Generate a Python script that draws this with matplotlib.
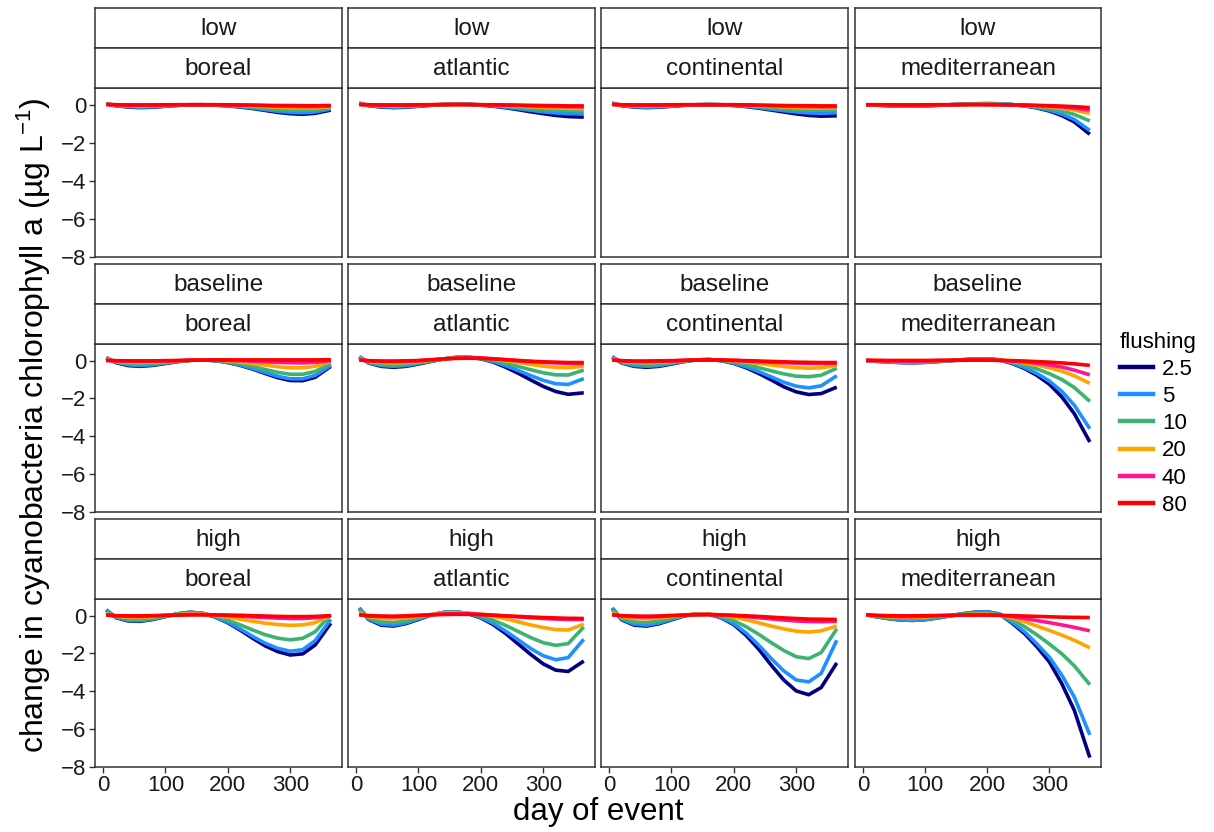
"""Cyanobacteria chlorophyll response by climate region, scenario and flushing."""

import matplotlib
matplotlib.use("Agg")
import matplotlib.pyplot as plt
from matplotlib.lines import Line2D

plt.rcParams["font.family"] = ["Liberation Sans", "DejaVu Sans"]
plt.rcParams["mathtext.fontset"] = "custom"
plt.rcParams["mathtext.rm"] = "Liberation Sans"
plt.rcParams["mathtext.it"] = "Liberation Sans:italic"

# ---- data -----------------------------------------------------------------
scenarios = ["low", "baseline", "high"]
regions = ["boreal", "atlantic", "continental", "mediterranean"]
flushing = ["2.5", "5", "10", "20", "40", "80"]
days = [5, 20, 40, 60, 80, 100, 120, 140, 160, 180, 200, 220, 240, 260, 280, 300, 320, 340, 365]

# low scenario (rows: flushing 2.5, 5, 10, 20, 40, 80)
low_boreal = [
    [0.05, -0.05, -0.12, -0.15, -0.13, -0.08, -0.03, 0.00, 0.00, -0.02, -0.06, -0.12, -0.20, -0.30, -0.40, -0.47, -0.50, -0.45, -0.28],
    [0.05, -0.05, -0.10, -0.13, -0.11, -0.07, -0.03, 0.00, 0.00, -0.02, -0.05, -0.10, -0.17, -0.26, -0.34, -0.40, -0.42, -0.38, -0.22],
    [0.05, -0.03, -0.07, -0.09, -0.08, -0.05, -0.02, 0.00, 0.00, -0.01, -0.04, -0.07, -0.12, -0.18, -0.24, -0.28, -0.29, -0.27, -0.15],
    [0.03, -0.02, -0.04, -0.05, -0.04, -0.03, -0.01, 0.00, 0.00, 0.00, -0.02, -0.04, -0.07, -0.10, -0.13, -0.16, -0.17, -0.16, -0.10],
    [0.02, 0.00, -0.02, -0.02, -0.02, -0.01, 0.00, 0.00, 0.00, 0.00, -0.01, -0.02, -0.03, -0.05, -0.07, -0.08, -0.09, -0.09, -0.06],
    [0.01, 0.00, -0.01, -0.01, -0.01, 0.00, 0.00, 0.00, 0.00, 0.00, 0.00, -0.01, -0.02, -0.03, -0.04, -0.04, -0.05, -0.05, -0.04],
]
low_atlantic = [
    [0.08, -0.05, -0.12, -0.15, -0.13, -0.08, -0.03, 0.01, 0.03, 0.02, -0.02, -0.08, -0.16, -0.26, -0.37, -0.47, -0.56, -0.62, -0.65],
    [0.08, -0.04, -0.10, -0.13, -0.11, -0.07, -0.02, 0.01, 0.03, 0.02, -0.01, -0.06, -0.13, -0.21, -0.29, -0.37, -0.43, -0.47, -0.48],
    [0.05, -0.03, -0.07, -0.09, -0.08, -0.05, -0.01, 0.01, 0.02, 0.02, 0.00, -0.04, -0.08, -0.13, -0.19, -0.24, -0.28, -0.31, -0.32],
    [0.03, -0.02, -0.04, -0.05, -0.04, -0.03, 0.00, 0.01, 0.02, 0.01, 0.00, -0.02, -0.05, -0.08, -0.11, -0.14, -0.17, -0.19, -0.20],
    [0.02, 0.00, -0.02, -0.02, -0.02, -0.01, 0.00, 0.01, 0.01, 0.01, 0.00, -0.01, -0.02, -0.04, -0.06, -0.08, -0.09, -0.10, -0.11],
    [0.01, 0.00, -0.01, -0.01, -0.01, 0.00, 0.00, 0.01, 0.01, 0.01, 0.00, 0.00, -0.01, -0.02, -0.03, -0.04, -0.05, -0.06, -0.06],
]
low_continental = [
    [0.08, -0.05, -0.12, -0.15, -0.13, -0.08, -0.03, 0.00, 0.01, 0.00, -0.04, -0.10, -0.18, -0.28, -0.38, -0.48, -0.56, -0.60, -0.58],
    [0.08, -0.04, -0.10, -0.13, -0.11, -0.07, -0.02, 0.00, 0.01, 0.00, -0.03, -0.08, -0.15, -0.23, -0.31, -0.38, -0.43, -0.45, -0.42],
    [0.05, -0.03, -0.07, -0.09, -0.08, -0.05, -0.01, 0.00, 0.01, 0.00, -0.02, -0.05, -0.10, -0.15, -0.20, -0.25, -0.28, -0.29, -0.27],
    [0.03, -0.02, -0.04, -0.05, -0.04, -0.03, 0.00, 0.00, 0.01, 0.00, -0.01, -0.03, -0.06, -0.09, -0.12, -0.15, -0.17, -0.18, -0.17],
    [0.02, 0.00, -0.02, -0.02, -0.02, -0.01, 0.00, 0.00, 0.00, 0.00, 0.00, -0.01, -0.03, -0.05, -0.07, -0.08, -0.09, -0.10, -0.10],
    [0.01, 0.00, -0.01, -0.01, -0.01, 0.00, 0.00, 0.00, 0.00, 0.00, 0.00, -0.01, -0.02, -0.03, -0.04, -0.05, -0.05, -0.06, -0.06],
]
low_mediterranean = [
    [0.00, -0.02, -0.05, -0.07, -0.07, -0.06, -0.03, 0.00, 0.03, 0.05, 0.06, 0.05, 0.01, -0.06, -0.17, -0.33, -0.57, -0.90, -1.55],
    [0.00, -0.02, -0.05, -0.07, -0.07, -0.06, -0.03, 0.00, 0.03, 0.05, 0.06, 0.05, 0.01, -0.05, -0.15, -0.29, -0.49, -0.77, -1.35],
    [0.00, -0.01, -0.03, -0.05, -0.05, -0.04, -0.02, 0.00, 0.02, 0.04, 0.04, 0.03, 0.00, -0.04, -0.11, -0.20, -0.33, -0.51, -0.85],
    [0.00, -0.01, -0.02, -0.03, -0.03, -0.02, -0.01, 0.00, 0.01, 0.02, 0.02, 0.01, 0.00, -0.03, -0.07, -0.12, -0.19, -0.28, -0.45],
    [0.00, 0.00, -0.01, -0.02, -0.02, -0.01, 0.00, 0.00, 0.01, 0.01, 0.01, 0.00, -0.01, -0.02, -0.05, -0.08, -0.12, -0.18, -0.28],
    [0.00, 0.00, 0.00, -0.01, -0.01, 0.00, 0.00, 0.00, 0.00, 0.01, 0.00, 0.00, -0.01, -0.02, -0.03, -0.05, -0.07, -0.10, -0.15],
]

# baseline scenario
baseline_boreal = [
    [0.15, -0.10, -0.26, -0.30, -0.25, -0.15, -0.05, 0.02, 0.04, 0.00, -0.10, -0.25, -0.45, -0.68, -0.90, -1.05, -1.06, -0.88, -0.30],
    [0.15, -0.08, -0.22, -0.26, -0.22, -0.13, -0.04, 0.02, 0.04, 0.00, -0.09, -0.23, -0.42, -0.63, -0.83, -0.96, -0.96, -0.78, -0.25],
    [0.10, -0.06, -0.16, -0.19, -0.16, -0.10, -0.03, 0.02, 0.04, 0.01, -0.06, -0.17, -0.31, -0.47, -0.62, -0.72, -0.72, -0.57, -0.15],
    [0.05, -0.03, -0.08, -0.10, -0.08, -0.05, -0.01, 0.02, 0.04, 0.03, -0.01, -0.07, -0.15, -0.24, -0.32, -0.38, -0.38, -0.30, -0.05],
    [0.02, -0.01, -0.03, -0.04, -0.03, -0.02, 0.00, 0.02, 0.03, 0.03, 0.02, 0.00, -0.03, -0.06, -0.09, -0.11, -0.12, -0.09, 0.00],
    [0.01, 0.00, -0.01, -0.01, -0.01, 0.00, 0.01, 0.02, 0.03, 0.04, 0.04, 0.04, 0.04, 0.04, 0.04, 0.04, 0.04, 0.04, 0.05],
]
baseline_atlantic = [
    [0.20, -0.12, -0.30, -0.35, -0.30, -0.18, -0.04, 0.09, 0.17, 0.18, 0.10, -0.08, -0.35, -0.67, -1.02, -1.36, -1.63, -1.78, -1.70],
    [0.20, -0.10, -0.26, -0.30, -0.26, -0.15, -0.03, 0.09, 0.17, 0.18, 0.11, -0.05, -0.27, -0.52, -0.79, -1.04, -1.22, -1.26, -0.95],
    [0.15, -0.08, -0.20, -0.23, -0.20, -0.11, -0.01, 0.09, 0.16, 0.18, 0.13, 0.01, -0.14, -0.31, -0.48, -0.64, -0.75, -0.76, -0.50],
    [0.10, -0.04, -0.10, -0.12, -0.10, -0.05, 0.02, 0.09, 0.15, 0.17, 0.15, 0.08, -0.01, -0.10, -0.20, -0.29, -0.35, -0.37, -0.30],
    [0.05, -0.01, -0.04, -0.05, -0.04, -0.01, 0.04, 0.09, 0.13, 0.15, 0.14, 0.10, 0.05, -0.01, -0.05, -0.09, -0.12, -0.14, -0.15],
    [0.03, 0.00, -0.02, -0.02, -0.01, 0.01, 0.05, 0.09, 0.12, 0.13, 0.12, 0.09, 0.05, 0.01, -0.03, -0.06, -0.08, -0.10, -0.10],
]
baseline_continental = [
    [0.20, -0.12, -0.30, -0.35, -0.30, -0.18, -0.05, 0.04, 0.06, 0.00, -0.15, -0.38, -0.68, -1.02, -1.38, -1.65, -1.79, -1.74, -1.40],
    [0.20, -0.10, -0.26, -0.30, -0.26, -0.15, -0.04, 0.04, 0.06, 0.00, -0.13, -0.33, -0.58, -0.86, -1.14, -1.35, -1.44, -1.33, -0.80],
    [0.15, -0.08, -0.18, -0.22, -0.19, -0.11, -0.02, 0.04, 0.06, 0.02, -0.08, -0.21, -0.37, -0.54, -0.70, -0.82, -0.85, -0.77, -0.40],
    [0.10, -0.04, -0.09, -0.11, -0.09, -0.05, 0.00, 0.04, 0.05, 0.03, -0.02, -0.08, -0.15, -0.23, -0.31, -0.37, -0.40, -0.38, -0.25],
    [0.05, -0.01, -0.04, -0.05, -0.04, -0.02, 0.01, 0.03, 0.04, 0.03, 0.01, -0.02, -0.05, -0.08, -0.11, -0.13, -0.15, -0.15, -0.14],
    [0.03, 0.00, -0.02, -0.02, -0.01, 0.00, 0.02, 0.03, 0.04, 0.03, 0.02, 0.00, -0.02, -0.04, -0.06, -0.08, -0.09, -0.10, -0.10],
]
baseline_mediterranean = [
    [0.00, -0.03, -0.07, -0.10, -0.11, -0.09, -0.05, 0.00, 0.05, 0.09, 0.10, 0.04, -0.15, -0.42, -0.78, -1.25, -1.92, -2.80, -4.30],
    [0.00, -0.03, -0.07, -0.10, -0.11, -0.09, -0.05, 0.00, 0.05, 0.09, 0.10, 0.04, -0.13, -0.37, -0.68, -1.08, -1.63, -2.35, -3.60],
    [0.00, -0.02, -0.05, -0.07, -0.08, -0.06, -0.03, 0.00, 0.04, 0.07, 0.07, 0.03, -0.08, -0.24, -0.44, -0.69, -1.00, -1.42, -2.15],
    [0.00, -0.01, -0.03, -0.04, -0.04, -0.03, -0.01, 0.01, 0.03, 0.05, 0.05, 0.02, -0.04, -0.13, -0.24, -0.38, -0.56, -0.80, -1.20],
    [0.00, -0.01, -0.02, -0.02, -0.02, -0.02, 0.00, 0.01, 0.02, 0.03, 0.03, 0.01, -0.02, -0.07, -0.14, -0.23, -0.34, -0.50, -0.75],
    [0.03, 0.02, 0.01, 0.01, 0.01, 0.01, 0.02, 0.02, 0.03, 0.03, 0.03, 0.02, 0.00, -0.02, -0.05, -0.08, -0.12, -0.17, -0.25],
]

# high scenario
high_boreal = [
    [0.30, -0.10, -0.28, -0.30, -0.20, -0.05, 0.10, 0.18, 0.12, -0.08, -0.38, -0.77, -1.20, -1.60, -1.90, -2.08, -2.02, -1.55, -0.40],
    [0.30, -0.08, -0.25, -0.27, -0.18, -0.04, 0.10, 0.18, 0.12, -0.07, -0.35, -0.71, -1.10, -1.46, -1.73, -1.88, -1.80, -1.32, -0.20],
    [0.20, -0.06, -0.18, -0.20, -0.13, -0.02, 0.09, 0.15, 0.11, -0.04, -0.24, -0.49, -0.76, -1.01, -1.19, -1.28, -1.20, -0.85, 0.05],
    [0.10, -0.03, -0.09, -0.10, -0.06, 0.00, 0.06, 0.10, 0.09, 0.02, -0.08, -0.19, -0.30, -0.40, -0.47, -0.51, -0.49, -0.37, 0.00],
    [0.05, -0.01, -0.03, -0.04, -0.02, 0.01, 0.04, 0.06, 0.06, 0.04, 0.01, -0.03, -0.07, -0.10, -0.13, -0.15, -0.15, -0.11, 0.00],
    [0.03, 0.00, -0.01, -0.01, 0.00, 0.02, 0.03, 0.04, 0.04, 0.04, 0.03, 0.02, 0.00, -0.02, -0.04, -0.05, -0.05, -0.04, 0.00],
]
high_atlantic = [
    [0.40, -0.20, -0.50, -0.55, -0.42, -0.20, 0.03, 0.17, 0.20, 0.10, -0.12, -0.48, -0.95, -1.50, -2.05, -2.55, -2.88, -2.95, -2.40],
    [0.40, -0.17, -0.45, -0.50, -0.38, -0.17, 0.04, 0.17, 0.20, 0.11, -0.09, -0.41, -0.82, -1.28, -1.74, -2.12, -2.33, -2.22, -1.25],
    [0.30, -0.12, -0.33, -0.37, -0.27, -0.11, 0.05, 0.16, 0.19, 0.13, -0.02, -0.24, -0.52, -0.84, -1.16, -1.43, -1.57, -1.48, -0.60],
    [0.15, -0.05, -0.15, -0.17, -0.12, -0.04, 0.06, 0.13, 0.16, 0.14, 0.07, -0.04, -0.17, -0.33, -0.49, -0.63, -0.74, -0.76, -0.45],
    [0.06, -0.02, -0.05, -0.06, -0.04, 0.00, 0.05, 0.09, 0.11, 0.10, 0.07, 0.03, -0.02, -0.07, -0.11, -0.15, -0.18, -0.20, -0.20],
    [0.04, 0.00, -0.02, -0.03, -0.01, 0.02, 0.04, 0.06, 0.07, 0.07, 0.05, 0.02, -0.01, -0.04, -0.07, -0.10, -0.12, -0.14, -0.15],
]
high_continental = [
    [0.40, -0.22, -0.50, -0.55, -0.43, -0.22, -0.02, 0.10, 0.08, -0.12, -0.48, -1.05, -1.78, -2.62, -3.40, -3.98, -4.18, -3.80, -2.50],
    [0.40, -0.19, -0.45, -0.50, -0.39, -0.19, -0.01, 0.10, 0.08, -0.10, -0.43, -0.93, -1.56, -2.27, -2.92, -3.40, -3.50, -3.05, -1.30],
    [0.30, -0.14, -0.33, -0.37, -0.28, -0.13, 0.01, 0.09, 0.08, -0.05, -0.27, -0.59, -0.99, -1.43, -1.84, -2.17, -2.27, -1.95, -0.70],
    [0.15, -0.06, -0.15, -0.17, -0.12, -0.05, 0.03, 0.08, 0.08, 0.03, -0.08, -0.22, -0.38, -0.55, -0.70, -0.82, -0.87, -0.80, -0.55],
    [0.06, -0.02, -0.06, -0.07, -0.05, -0.01, 0.03, 0.06, 0.06, 0.04, 0.00, -0.05, -0.11, -0.17, -0.23, -0.28, -0.31, -0.32, -0.30],
    [0.04, 0.00, -0.02, -0.03, -0.02, 0.01, 0.03, 0.04, 0.05, 0.04, 0.02, -0.01, -0.04, -0.08, -0.12, -0.15, -0.18, -0.19, -0.20],
]
high_mediterranean = [
    [0.05, -0.05, -0.15, -0.23, -0.25, -0.21, -0.12, -0.01, 0.10, 0.18, 0.20, 0.08, -0.40, -0.95, -1.65, -2.45, -3.60, -5.00, -7.50],
    [0.05, -0.05, -0.15, -0.23, -0.25, -0.21, -0.12, -0.01, 0.10, 0.18, 0.20, 0.08, -0.35, -0.85, -1.50, -2.20, -3.15, -4.30, -6.30],
    [0.05, -0.03, -0.10, -0.15, -0.16, -0.13, -0.07, 0.00, 0.07, 0.12, 0.13, 0.05, -0.22, -0.58, -1.02, -1.50, -2.02, -2.65, -3.65],
    [0.05, -0.02, -0.06, -0.09, -0.09, -0.07, -0.03, 0.01, 0.05, 0.08, 0.08, 0.03, -0.12, -0.32, -0.55, -0.78, -1.03, -1.30, -1.70],
    [0.05, 0.00, -0.03, -0.05, -0.05, -0.03, -0.01, 0.01, 0.03, 0.05, 0.05, 0.02, -0.05, -0.15, -0.26, -0.37, -0.49, -0.62, -0.80],
    [0.05, 0.02, 0.00, -0.01, -0.01, 0.00, 0.01, 0.02, 0.03, 0.03, 0.03, 0.02, 0.00, -0.02, -0.04, -0.06, -0.08, -0.09, -0.10],
]

panels = {
    "low": [low_boreal, low_atlantic, low_continental, low_mediterranean],
    "baseline": [baseline_boreal, baseline_atlantic, baseline_continental, baseline_mediterranean],
    "high": [high_boreal, high_atlantic, high_continental, high_mediterranean],
}

colors = ["#000080", "#1E90FF", "#3CB371", "#FFA500", "#FF1493", "#FF0000"]

# ---- layout (pixel boxes in the 1214x832 canvas) ---------------------------
W, H = 1214, 832
col_x = [(95, 342), (348, 595), (601, 848), (855, 1101)]
row_y = [(8, 257), (264, 512), (519, 767)]   # top of strips, bottom of panel
STRIP = 40
EDGE = "#333333"


def fig_box(x0, y0, x1, y1):
    return [x0 / W, 1 - y1 / H, (x1 - x0) / W, (y1 - y0) / H]


fig = plt.figure(figsize=(W / 100, H / 100), dpi=100)

for r, scen in enumerate(scenarios):
    top, bottom = row_y[r]
    for c, region in enumerate(regions):
        x0, x1 = col_x[c]
        ax = fig.add_axes(fig_box(x0, top + 2 * STRIP, x1, bottom))
        for series, col in zip(panels[scen][c], colors):
            ax.plot(days, series, color=col, lw=2.6,
                    solid_capstyle="butt", solid_joinstyle="round")
        ax.set_xlim(-13, 383)
        ax.set_ylim(-8.0, 0.88)
        ax.set_xticks([0, 100, 200, 300])
        ax.set_yticks([0, -2, -4, -6, -8])
        for s in ax.spines.values():
            s.set_color(EDGE)
            s.set_linewidth(1.1)
        ax.tick_params(colors=EDGE, labelcolor="#1a1a1a", labelsize=16,
                       length=4, width=1, pad=2)
        if c != 0:
            ax.tick_params(axis="y", left=False, labelleft=False)
        if r != 2:
            ax.tick_params(axis="x", bottom=False, labelbottom=False)

        # two-level facet strips
        for k, label in enumerate([scen, region]):
            sy0 = top + k * STRIP
            sax = fig.add_axes(fig_box(x0, sy0, x1, sy0 + STRIP))
            sax.set_xticks([])
            sax.set_yticks([])
            for s in sax.spines.values():
                s.set_color(EDGE)
                s.set_linewidth(1.1)
            sax.text(0.5, 0.47, label, ha="center", va="center",
                     fontsize=17.5, color="#1a1a1a", transform=sax.transAxes)

fig.text(598 / W, 1 - 812 / H, "day of event", ha="center", va="center",
         fontsize=22.5, color="#000000")
fig.text(34 / W, 1 - 425 / H,
         r"change in cyanobacteria chlorophyll a (µg L$^{-1}$)",
         ha="center", va="center", rotation=90, fontsize=23, color="#000000")

handles = [Line2D([], [], color=col, lw=3.2) for col in colors]
fig.legend(handles, flushing, title="flushing", loc="upper left",
           bbox_to_anchor=(1104 / W, 1 - 316 / H), frameon=False,
           fontsize=16, title_fontsize=16, handlelength=1.5,
           handletextpad=0.4, labelspacing=0.28, alignment="left",
           borderaxespad=0.3)

fig.savefig("out.png", dpi=100, facecolor="white")
